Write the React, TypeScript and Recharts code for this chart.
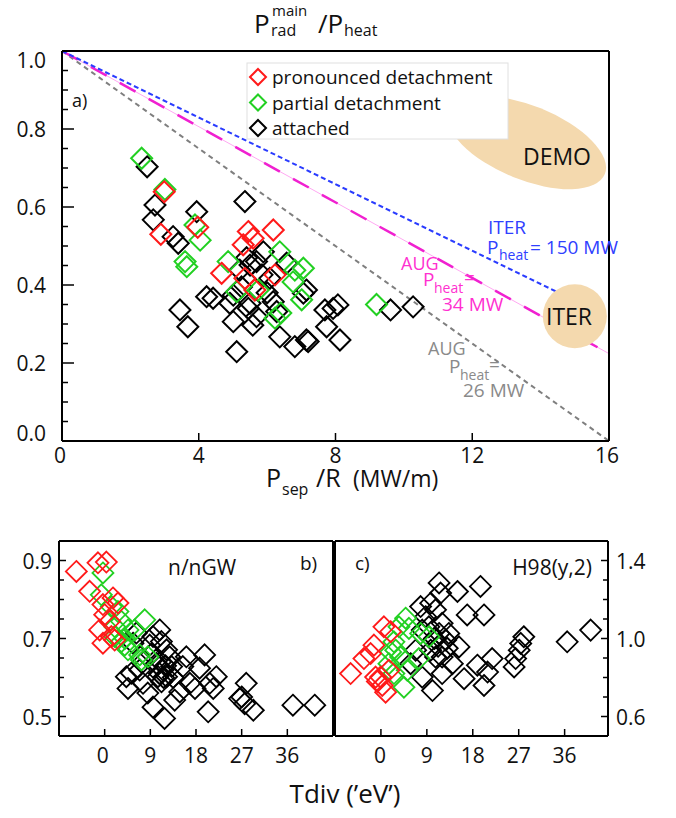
import React from 'react';
import { ScatterChart, Scatter, XAxis, YAxis, ReferenceLine, ReferenceDot } from 'recharts';

const FONT = '"Open Sans", "Noto Sans", sans-serif';
const RED = '#ff1a1a';
const GREEN = '#22d022';
const BLACK = '#000000';
const TAN = '#f4d9ae';

// ---- Panel a: P_rad^main / P_heat versus P_sep / R ----
const pronouncedA = [
  [2.99, 0.639], [2.89, 0.53], [3.97, 0.548], [5.45, 0.537], [5.59, 0.52], [5.3, 0.503],
  [6.18, 0.541], [4.67, 0.43], [5.35, 0.417], [6.23, 0.426], [5.64, 0.387],
];
const partialA = [
  [2.33, 0.725], [3.01, 0.645], [3.89, 0.554], [4.04, 0.515], [3.6, 0.46], [3.65, 0.447],
  [4.86, 0.46], [6.37, 0.485], [6.81, 0.438], [6.76, 0.408], [7.01, 0.362], [5.74, 0.387],
  [5.11, 0.383], [6.23, 0.315], [6.4, 0.328], [9.2, 0.35], [7.06, 0.443],
];
const attachedA = [
  [2.49, 0.703], [2.72, 0.605], [2.67, 0.567], [3.25, 0.524], [3.4, 0.507], [3.94, 0.588],
  [5.35, 0.614], [4.23, 0.37], [4.42, 0.366], [3.45, 0.336], [3.68, 0.293], [5.2, 0.438],
  [5.01, 0.306], [4.91, 0.353], [5.45, 0.34], [5.58, 0.297], [5.89, 0.485], [5.69, 0.46],
  [6.57, 0.456], [6.08, 0.417], [7.06, 0.379], [7.15, 0.387], [5.01, 0.374], [5.5, 0.353],
  [6.18, 0.357], [6.28, 0.332], [5.69, 0.319], [6.37, 0.267], [6.81, 0.242], [7.15, 0.259],
  [7.74, 0.293], [7.93, 0.34], [8.07, 0.349], [8.13, 0.259], [5.11, 0.229], [9.61, 0.336],
  [10.27, 0.344], [7.69, 0.336], [7.2, 0.255], [5.5, 0.451], [5.85, 0.426], [5.4, 0.47],
  [6.0, 0.38], [5.25, 0.395],
];

// scaling lines: 1 - (P_sep/R) * R / P_heat
const iterLine = [{ x: 0, y: 1 }, { x: 15, y: 0.36 }];
const aug34Line = [{ x: 0, y: 1 }, { x: 16, y: 0.224 }];
const aug26Line = [{ x: 0, y: 1 }, { x: 16, y: 0 }];
const demoRegion = { x: 13.6, y: 0.765 };
const iterRegion = { x: 15.0, y: 0.32 };

const aXTicks = [0, 4, 8, 12, 16];
const aXTopTicks = [4, 8, 12];
const aYTicks = [0, 0.05, 0.1, 0.15, 0.2, 0.25, 0.3, 0.35, 0.4, 0.45, 0.5, 0.55, 0.6, 0.65, 0.7, 0.75, 0.8, 0.85, 0.9, 0.95, 1.0];
const aYLabels = [0, 0.2, 0.4, 0.6, 0.8, 1.0];
const aYRightMajors = [0.1, 0.3, 0.5, 0.7, 0.9];

// ---- Panel b: n/nGW versus Tdiv ----
const pronouncedB = [
  [-5.58, 0.872], [-1.32, 0.894], [0.33, 0.896], [-2.96, 0.821], [-0.34, 0.787], [1.64, 0.804],
  [2.62, 0.791], [0, 0.761], [0.99, 0.744], [-0.99, 0.722], [-0.34, 0.688], [1.32, 0.705],
  [1.97, 0.696],
];
const partialB = [
  [-0.34, 0.868], [-0.66, 0.812], [1.32, 0.782], [2.62, 0.769], [3.29, 0.744], [4.6, 0.722],
  [7.89, 0.748], [1.97, 0.705], [3.29, 0.692], [3.94, 0.683], [4.6, 0.671], [6.9, 0.658],
  [7.24, 0.645], [8.54, 0.653], [5.92, 0.722], [2.0, 0.73], [4.0, 0.7],
];
const attachedB = [
  [10.85, 0.722], [9.53, 0.705], [11.18, 0.692], [8.88, 0.683], [6.25, 0.714], [5.59, 0.688],
  [5.26, 0.611], [4.6, 0.572], [6.9, 0.619], [7.56, 0.64], [10.2, 0.636], [11.5, 0.619],
  [10.5, 0.602], [12.2, 0.602], [11.2, 0.589], [13.2, 0.628], [16.1, 0.653], [15.4, 0.628],
  [19.7, 0.658], [18.7, 0.624], [22.0, 0.602], [20.7, 0.585], [21.4, 0.572], [17.8, 0.572],
  [14.8, 0.563], [13.8, 0.542], [9.53, 0.524], [11.8, 0.495], [20.4, 0.512], [27.9, 0.585],
  [26.6, 0.546], [27.6, 0.533], [29.3, 0.516], [37.1, 0.529], [41.4, 0.529], [12.2, 0.671],
  [12.8, 0.653], [4.27, 0.602], [7.56, 0.585], [16.8, 0.585], [10.8, 0.61], [11.6, 0.6],
  [12.0, 0.63], [11.0, 0.64], [9.2, 0.66], [13.5, 0.6], [27.0, 0.55], [8.5, 0.56],
];

// ---- Panel c: H98(y,2) versus Tdiv ----
const pronouncedC = [
  [-5.94, 0.82], [-3.33, 0.897], [-1.37, 0.966], [0.59, 1.06], [1.9, 1.035], [-0.06, 0.802],
  [0.26, 0.759], [0.92, 0.725], [1.57, 0.837], [-1.04, 0.802], [-0.7, 0.78], [-2.02, 0.923],
];
const partialC = [
  [4.84, 1.104], [3.53, 1.06], [2.55, 0.983], [5.49, 1.052], [7.78, 1.026], [9.41, 1.009],
  [1.9, 0.931], [2.9, 0.94], [3.86, 0.905], [7.45, 0.897], [4.51, 0.75], [2.55, 0.82],
  [1.57, 0.871], [5.16, 0.837],
];
const attachedC = [
  [11.4, 1.285], [11.7, 1.233], [15.0, 1.241], [19.5, 1.267], [7.78, 1.164], [9.75, 1.181],
  [10.7, 1.147], [16.9, 1.121], [20.2, 1.121], [8.1, 1.043], [11.4, 1.026], [12.7, 0.992],
  [15.3, 0.957], [9.75, 0.94], [10.7, 0.905], [12.0, 0.905], [14.0, 0.871], [6.8, 0.94],
  [5.82, 0.871], [8.1, 0.802], [10.1, 0.733], [12.0, 0.82], [16.3, 0.794], [18.9, 0.863],
  [20.9, 0.828], [21.8, 0.897], [20.2, 0.759], [26.4, 0.897], [26.1, 0.854], [28.0, 1.009],
  [27.4, 0.975], [27.1, 0.94], [36.5, 0.983], [41.1, 1.043], [8.76, 1.112], [9.4, 1.06],
  [12.0, 1.078], [13.3, 1.026], [10.5, 1.0], [11.2, 0.96], [13.0, 0.95],
];

const tdivTicks = [0, 9, 18, 27, 36];
const bYTicks = [0.5, 0.55, 0.6, 0.65, 0.7, 0.75, 0.8, 0.85, 0.9];
const bYLabels = [0.5, 0.7, 0.9];
const cYTicks = [0.6, 0.7, 0.8, 0.9, 1.0, 1.1, 1.2, 1.3, 1.4];
const cYLabels = [0.6, 1.0, 1.4];

const pts = (arr: number[][]) => arr.map(([x, y]) => ({ x, y }));
const has = (list: number[] | undefined, v: number) => !!list && list.some((m) => Math.abs(m - v) < 1e-6);

const diamond = (color: string, h: number, sw: number) => (p: any) => {
  const { cx, cy } = p;
  if (cx == null || cy == null) return <g />;
  return (
    <polygon
      points={`${cx},${cy - h} ${cx + h},${cy} ${cx},${cy + h} ${cx - h},${cy}`}
      fill="none"
      stroke={color}
      strokeWidth={sw}
    />
  );
};

type TickSpec = {
  side: 'left' | 'right' | 'top' | 'bottom';
  margin: number;
  majors?: number[];
  majorLen: number;
  minorLen: number;
  labels?: number[];
  fmt?: (v: number) => string;
  fontSize?: number;
  shift?: Record<string, number>;
};

const makeTick = (s: TickSpec) => (props: any) => {
  const { x, y, payload } = props;
  const v: number = payload.value;
  const len = has(s.majors, v) ? s.majorLen : s.minorLen;
  const label = has(s.labels, v) ? (s.fmt ? s.fmt(v) : String(v)) : null;
  const d = (s.shift && s.shift[String(v)]) || 0;
  const fs = s.fontSize || 21;
  const tStyle = { fontFamily: FONT, fontSize: fs, fill: '#111' };
  let line: React.ReactNode = null;
  let text: React.ReactNode = null;
  if (s.side === 'left') {
    const ax = x + s.margin;
    line = <line x1={ax} x2={ax + len} y1={y} y2={y} stroke="#000" strokeWidth={1.5} />;
    if (label) text = <text x={x} y={y + d} textAnchor="end" dominantBaseline="central" style={tStyle}>{label}</text>;
  } else if (s.side === 'right') {
    const ax = x - s.margin;
    line = <line x1={ax} x2={ax - len} y1={y} y2={y} stroke="#000" strokeWidth={1.5} />;
    if (label) text = <text x={x} y={y + d} textAnchor="start" dominantBaseline="central" style={tStyle}>{label}</text>;
  } else if (s.side === 'bottom') {
    const ay = y - s.margin;
    line = <line x1={x} x2={x} y1={ay} y2={ay - len} stroke="#000" strokeWidth={1.5} />;
    if (label) text = <text x={x + d} y={y} textAnchor="middle" dominantBaseline="central" style={tStyle}>{label}</text>;
  } else {
    const ay = y + s.margin;
    line = <line x1={x} x2={x} y1={ay} y2={ay + len} stroke="#000" strokeWidth={1.5} />;
  }
  return (
    <g>
      {line}
      {text}
    </g>
  );
};

const frame = { stroke: '#000', strokeWidth: 2 };
const fix1 = (v: number) => v.toFixed(1);

function PanelA() {
  return (
    <ScatterChart width={676} height={490} margin={{ top: 0, right: 0, bottom: 0, left: 0 }}>
      <XAxis
        xAxisId="b" dataKey="x" type="number" domain={[0, 16]} ticks={aXTicks} interval={0}
        height={49} axisLine={frame} tickLine={false} tickSize={0} tickMargin={14}
        tick={makeTick({ side: 'bottom', margin: 14, majors: aXTicks, majorLen: 8, minorLen: 8, labels: aXTicks, shift: { '0': -2, '16': -2 } })}
      />
      <XAxis
        xAxisId="t" orientation="top" type="number" domain={[0, 16]} ticks={aXTopTicks} interval={0}
        height={51} axisLine={frame} tickLine={false} tickSize={0} tickMargin={5}
        tick={makeTick({ side: 'top', margin: 5, majors: aXTopTicks, majorLen: 8, minorLen: 8 })}
      />
      <YAxis
        yAxisId="l" dataKey="y" type="number" domain={[0, 1]} ticks={aYTicks} interval={0}
        width={62} axisLine={frame} tickLine={false} tickSize={0} tickMargin={16}
        tick={makeTick({ side: 'left', margin: 16, majors: aYLabels, majorLen: 12, minorLen: 6, labels: aYLabels, fmt: fix1, shift: { '0': -8, '1': 9 } })}
      />
      <YAxis
        yAxisId="r" orientation="right" type="number" domain={[0, 1]} ticks={aYTicks} interval={0}
        width={67} axisLine={frame} tickLine={false} tickSize={0} tickMargin={5}
        tick={makeTick({ side: 'right', margin: 5, majors: aYRightMajors, majorLen: 11, minorLen: 7 })}
      />
      <ReferenceLine xAxisId="b" yAxisId="l" segment={aug26Line} stroke="#7f7f7f" strokeWidth={2} strokeDasharray="5 4" />
      <ReferenceLine xAxisId="b" yAxisId="l" segment={aug34Line} stroke="#ffa8f2" strokeWidth={1} />
      <ReferenceLine xAxisId="b" yAxisId="l" segment={aug34Line} stroke="#f020d0" strokeWidth={2.5} strokeDasharray="18 15" />
      <ReferenceLine xAxisId="b" yAxisId="l" segment={iterLine} stroke="#2a3cff" strokeWidth={2} strokeDasharray="5 3" />
      <ReferenceDot
        xAxisId="b" yAxisId="l" x={demoRegion.x} y={demoRegion.y} r={40} ifOverflow="hidden"
        shape={(p: any) => (
          <ellipse cx={p.cx} cy={p.cy} rx={84} ry={37} transform={`rotate(22 ${p.cx} ${p.cy})`} fill={TAN} stroke="none" />
        )}
      />
      <ReferenceDot xAxisId="b" yAxisId="l" x={iterRegion.x} y={iterRegion.y} r={32} ifOverflow="hidden" fill={TAN} stroke="none" />
      <Scatter xAxisId="b" yAxisId="l" data={pts(attachedA)} shape={diamond(BLACK, 10.5, 2)} isAnimationActive={false} />
      <Scatter xAxisId="b" yAxisId="l" data={pts(partialA)} shape={diamond(GREEN, 10.5, 2)} isAnimationActive={false} />
      <Scatter xAxisId="b" yAxisId="l" data={pts(pronouncedA)} shape={diamond(RED, 10.5, 2)} isAnimationActive={false} />
    </ScatterChart>
  );
}

function PanelB() {
  return (
    <ScatterChart width={340} height={318} margin={{ top: 0, right: 0, bottom: 0, left: 0 }}>
      <XAxis
        xAxisId="b" dataKey="x" type="number" domain={[-9, 45]} ticks={tdivTicks} interval={0}
        height={82} axisLine={frame} tickLine={false} tickSize={0} tickMargin={19}
        tick={makeTick({ side: 'bottom', margin: 19, majors: tdivTicks, majorLen: 7, minorLen: 7, labels: tdivTicks, shift: { '0': -2 } })}
      />
      <XAxis
        xAxisId="t" orientation="top" type="number" domain={[-9, 45]} ticks={tdivTicks} interval={0}
        height={41} axisLine={frame} tickLine={false} tickSize={0} tickMargin={5}
        tick={makeTick({ side: 'top', margin: 5, majors: tdivTicks, majorLen: 7, minorLen: 7 })}
      />
      <YAxis
        yAxisId="l" dataKey="y" type="number" domain={[0.45, 0.95]} ticks={bYTicks} interval={0}
        width={59} axisLine={frame} tickLine={false} tickSize={0} tickMargin={7}
        tick={makeTick({ side: 'left', margin: 7, majors: bYLabels, majorLen: 7, minorLen: 5, labels: bYLabels, fmt: fix1 })}
      />
      <YAxis
        yAxisId="r" orientation="right" type="number" domain={[0.45, 0.95]} ticks={bYTicks} interval={0}
        width={7} axisLine={frame} tickLine={false} tickSize={0} tickMargin={3}
        tick={makeTick({ side: 'right', margin: 3, majors: bYLabels, majorLen: 7, minorLen: 5 })}
      />
      <Scatter xAxisId="b" yAxisId="l" data={pts(attachedB)} shape={diamond(BLACK, 10.5, 1.8)} isAnimationActive={false} />
      <Scatter xAxisId="b" yAxisId="l" data={pts(partialB)} shape={diamond(GREEN, 10.5, 1.8)} isAnimationActive={false} />
      <Scatter xAxisId="b" yAxisId="l" data={pts(pronouncedB)} shape={diamond(RED, 10.5, 1.8)} isAnimationActive={false} />
    </ScatterChart>
  );
}

function PanelC() {
  return (
    <ScatterChart width={346} height={318} margin={{ top: 0, right: 0, bottom: 0, left: 0 }}>
      <XAxis
        xAxisId="b" dataKey="x" type="number" domain={[-9, 44.5]} ticks={tdivTicks} interval={0}
        height={82} axisLine={frame} tickLine={false} tickSize={0} tickMargin={19}
        tick={makeTick({ side: 'bottom', margin: 19, majors: tdivTicks, majorLen: 7, minorLen: 7, labels: tdivTicks, shift: { '0': -1 } })}
      />
      <XAxis
        xAxisId="t" orientation="top" type="number" domain={[-9, 44.5]} ticks={tdivTicks} interval={0}
        height={41} axisLine={frame} tickLine={false} tickSize={0} tickMargin={5}
        tick={makeTick({ side: 'top', margin: 5, majors: tdivTicks, majorLen: 7, minorLen: 7 })}
      />
      <YAxis
        yAxisId="l" type="number" domain={[0.5, 1.5]} ticks={cYTicks} interval={0}
        width={5} axisLine={frame} tickLine={false} tickSize={0} tickMargin={3}
        tick={makeTick({ side: 'left', margin: 3, majors: cYLabels, majorLen: 7, minorLen: 5 })}
      />
      <YAxis
        yAxisId="r" dataKey="y" orientation="right" type="number" domain={[0.5, 1.5]} ticks={cYTicks} interval={0}
        width={68} axisLine={frame} tickLine={false} tickSize={0} tickMargin={8}
        tick={makeTick({ side: 'right', margin: 8, majors: cYLabels, majorLen: 7, minorLen: 5, labels: cYLabels, fmt: fix1 })}
      />
      <Scatter xAxisId="b" yAxisId="r" data={pts(attachedC)} shape={diamond(BLACK, 10.5, 1.8)} isAnimationActive={false} />
      <Scatter xAxisId="b" yAxisId="r" data={pts(partialC)} shape={diamond(GREEN, 10.5, 1.8)} isAnimationActive={false} />
      <Scatter xAxisId="b" yAxisId="r" data={pts(pronouncedC)} shape={diamond(RED, 10.5, 1.8)} isAnimationActive={false} />
    </ScatterChart>
  );
}

const legendItems = [
  { label: 'pronounced detachment', color: RED },
  { label: 'partial detachment', color: GREEN },
  { label: 'attached', color: BLACK },
];

function Labels() {
  const t = { fontFamily: FONT, fill: '#111' } as const;
  const blue = '#3040ff';
  const mag = '#ff30d0';
  const gray = '#8a8a8a';
  return (
    <svg width={676} height={818} style={{ position: 'absolute', left: 0, top: 0, pointerEvents: 'none' }}>
      {/* title */}
      <text x={254} y={33} fontSize={26} style={t}>P</text>
      <text x={272} y={16} fontSize={15} style={t}>main</text>
      <text x={271} y={36} fontSize={16} style={t}>rad</text>
      <text x={318} y={33} fontSize={26} style={t}>/P</text>
      <text x={344} y={36} fontSize={16} style={t}>heat</text>

      {/* x axis title, panel a */}
      <text x={266} y={487} fontSize={25} style={t}>P</text>
      <text x={282} y={495} fontSize={16} style={t}>sep</text>
      <text x={316} y={487} fontSize={25} style={t}>/R</text>
      <text x={353} y={487} fontSize={23} style={t}>(MW/m)</text>

      {/* legend */}
      <rect x={247} y={63} width={261} height={76} fill="#fff" stroke="#e0e0e0" strokeWidth={1} />
      {legendItems.map((it, i) => {
        const cy = 77 + i * 25.5;
        const cx = 258;
        const h = 8;
        return (
          <g key={it.label}>
            <polygon points={`${cx},${cy - h} ${cx + h},${cy} ${cx},${cy + h} ${cx - h},${cy}`} fill="none" stroke={it.color} strokeWidth={2} />
            <text x={272} y={cy} fontSize={19} dominantBaseline="central" style={t}>{it.label}</text>
          </g>
        );
      })}

      <text x={72} y={100} fontSize={18} dominantBaseline="central" style={t}>a)</text>
      <text x={557} y={156} fontSize={23} textAnchor="middle" dominantBaseline="central" style={t}>DEMO</text>
      <text x={569} y={316} fontSize={23} textAnchor="middle" dominantBaseline="central" style={t}>ITER</text>

      {/* ITER scaling */}
      <text x={488} y={227} fontSize={19} dominantBaseline="central" style={{ ...t, fill: blue }}>ITER</text>
      <text x={487} y={254} fontSize={19} style={{ ...t, fill: blue }}>P</text>
      <text x={499} y={260} fontSize={14} style={{ ...t, fill: blue }}>heat</text>
      <text x={530} y={254} fontSize={19} style={{ ...t, fill: blue }}>= 150 MW</text>

      {/* AUG 34 MW */}
      <text x={401} y={263} fontSize={18} dominantBaseline="central" style={{ ...t, fill: mag }}>AUG</text>
      <text x={423} y={286} fontSize={19} style={{ ...t, fill: mag }}>P</text>
      <text x={434} y={293} fontSize={14} style={{ ...t, fill: mag }}>heat</text>
      <text x={464} y={284} fontSize={19} style={{ ...t, fill: mag }}>=</text>
      <text x={442} y={304} fontSize={19} dominantBaseline="central" style={{ ...t, fill: mag }}>34 MW</text>

      {/* AUG 26 MW */}
      <text x={428} y={348} fontSize={18} dominantBaseline="central" style={{ ...t, fill: gray }}>AUG</text>
      <text x={449} y={373} fontSize={19} style={{ ...t, fill: gray }}>P</text>
      <text x={460} y={380} fontSize={14} style={{ ...t, fill: gray }}>heat</text>
      <text x={489} y={371} fontSize={19} style={{ ...t, fill: gray }}>=</text>
      <text x={463} y={390} fontSize={19} dominantBaseline="central" style={{ ...t, fill: gray }}>26 MW</text>

      {/* panel tags */}
      <text x={168} y={575} fontSize={21} style={t}>n/nGW</text>
      <text x={300} y={570} fontSize={19} style={t}>b)</text>
      <text x={355} y={570} fontSize={19} style={t}>c)</text>
      <text x={592} y={575} fontSize={21} textAnchor="end" style={t}>H98(y,2)</text>

      <text x={345} y={803} fontSize={26} textAnchor="middle" style={t}>Tdiv (’eV’)</text>
    </svg>
  );
}

export default function App() {
  return (
    <div style={{ position: 'absolute', left: 0, top: 0, width: 676, height: 818, background: '#fff', fontFamily: FONT }}>
      <div style={{ position: 'absolute', left: 0, top: 0 }}>
        <PanelA />
      </div>
      <div style={{ position: 'absolute', left: 0, top: 500 }}>
        <PanelB />
      </div>
      <div style={{ position: 'absolute', left: 330, top: 500 }}>
        <PanelC />
      </div>
      <Labels />
    </div>
  );
}
